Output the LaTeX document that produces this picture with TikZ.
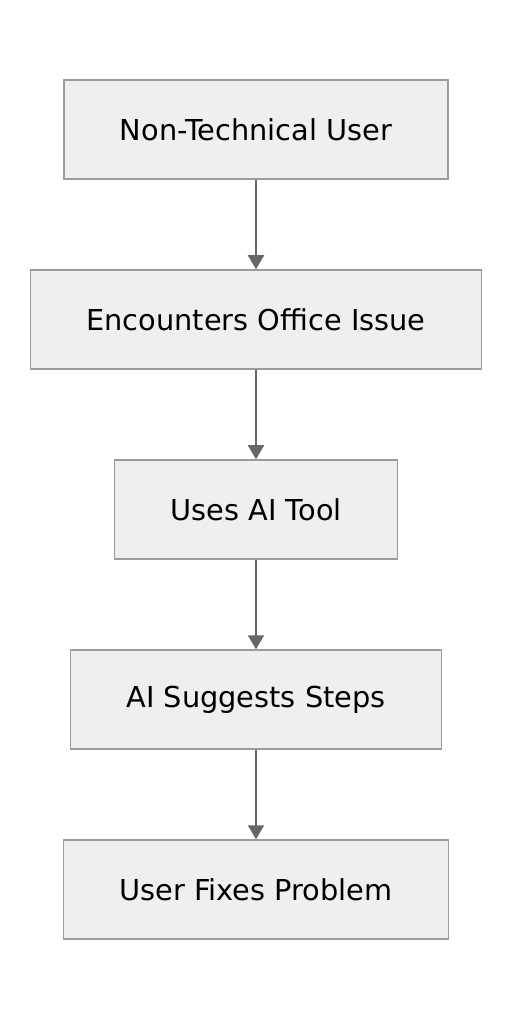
\documentclass[tikz,border=0pt]{standalone}
\usepackage{fontspec}
\setmainfont{DejaVu Sans}
\usetikzlibrary{arrows.meta}
\definecolor{boxfill}{HTML}{EFEFEF}
\definecolor{boxline}{HTML}{9C9C9C}
\definecolor{arrowline}{HTML}{666666}

\begin{document}
\begin{tikzpicture}[x=0.5pt, y=-0.5pt,
  stepbox/.style={draw=boxline, line width=0.75pt, fill=boxfill, rectangle,
    minimum height=49.5pt, inner xsep=28pt, font=\fontsize{14.4}{16}\selectfont},
  flow/.style={draw=arrowline, line width=1pt, -{Triangle[width=8pt, length=7pt]}}]
\useasboundingbox (0,0) rectangle (512,1020);
\node[stepbox] (user) at (256,129.5) {Non-Technical User};
\node[stepbox] (issue) at (256,319.5) {Encounters Office Issue};
\node[stepbox] (tool) at (256,509.5) {Uses AI Tool};
\node[stepbox] (steps) at (256,699.5) {AI Suggests Steps};
\node[stepbox] (fix) at (256,889.5) {User Fixes Problem};
\draw[flow] (user) -- (issue);
\draw[flow] (issue) -- (tool);
\draw[flow] (tool) -- (steps);
\draw[flow] (steps) -- (fix);
\end{tikzpicture}
\end{document}
